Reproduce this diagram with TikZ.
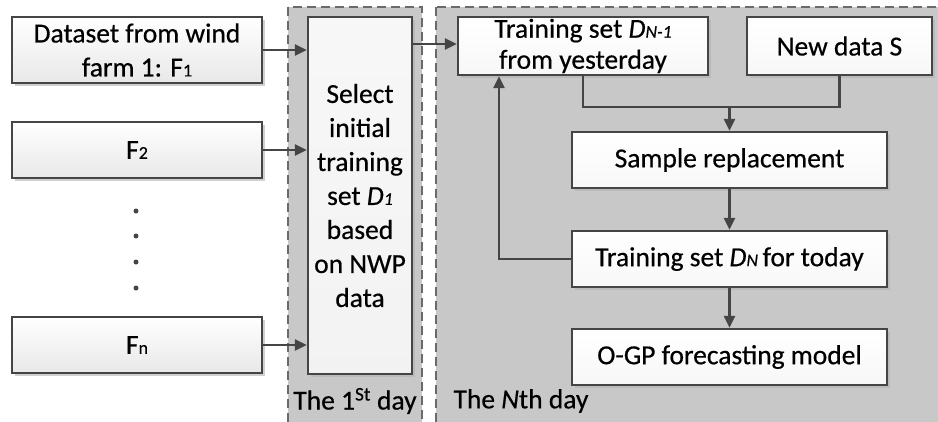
\documentclass[tikz,border=0pt]{standalone}
\usepackage{fontspec}
\setmainfont[FakeBold=0.5]{Carlito}
\usetikzlibrary{shadows,arrows.meta}
\definecolor{panelgray}{HTML}{C8C8C8}
\definecolor{edgegray}{HTML}{454545}
\newcommand{\sbs}[1]{{\fontsize{18}{18}\selectfont #1}}
\begin{document}
\begin{tikzpicture}[x=1pt,y=-1pt,
  font=\fontsize{27.5}{34}\selectfont,
  panel/.style={draw=edgegray!80,dash pattern=on 9pt off 5pt,line width=2pt,fill=panelgray},
  gbox/.style={draw=edgegray,line width=2.2pt,top color=white,bottom color=gray!18,
    drop shadow={shadow xshift=2.5pt,shadow yshift=-2.5pt,fill=gray!60,opacity=.6},
    align=center,inner sep=0pt},
  wbox/.style={draw=edgegray,line width=2.2pt,top color=white,bottom color=gray!6,
    drop shadow={shadow xshift=2.5pt,shadow yshift=-2.5pt,fill=gray!60,opacity=.6},
    align=center,inner sep=0pt},
  arr/.style={draw=edgegray,line width=2.5pt,-{Triangle[length=12pt,width=11pt]}},
  ln/.style={draw=edgegray,line width=2.5pt}]
\useasboundingbox (0,0) rectangle (938,421);
\begin{scope}
\clip (0,0) rectangle (938,421);
\fill[white] (0,0) rectangle (938,421);
\draw[panel] (288,7) rectangle (422,440);
\draw[panel] (436,7) rectangle (960,440);
\end{scope}
\node[gbox,minimum width=250,minimum height=66] (F1) at (137,50) {Dataset from wind\\farm 1: F\sbs{1}};
\node[gbox,minimum width=250,minimum height=56] (F2) at (137,150) {F\sbs{2}};
\node[gbox,minimum width=250,minimum height=56] (Fn) at (137,345) {F\sbs{n}};
\foreach \yy in {211,236,262,288} \fill[edgegray] (136,\yy) circle (2.5pt);
\node[gbox,top color=gray!6,bottom color=gray!10,minimum width=104,minimum height=357] (Sel) at (360,195.5) {Select\\initial\\training\\set \textit{D}\sbs{\itshape 1}\\based\\on NWP\\data};
\node[wbox,minimum width=250,minimum height=58] (DN1) at (583,46) {Training set \textit{D}\sbs{\itshape N-1}\\[-3pt]from yesterday};
\node[wbox,minimum width=185,minimum height=58] (NS) at (839.5,46) {New data S};
\node[wbox,minimum width=315,minimum height=56] (SR) at (729.5,160) {Sample replacement};
\node[wbox,minimum width=315,minimum height=56] (DN) at (729.5,259) {Training set \textit{D}\sbs{\itshape N}\,for today};
\node[wbox,minimum width=315,minimum height=56] (OG) at (729.5,357) {O-GP forecasting model};
\node (L1) at (355,401) {The 1\textsuperscript{St} day};
\node[anchor=west] (LN) at (450,401) {The \textit{N}th day};
\draw[arr] (F1.east) -- (F1.east -| Sel.west);
\draw[arr] (F2.east) -- (F2.east -| Sel.west);
\draw[arr] (Fn.east) -- (Fn.east -| Sel.west);
\draw[arr] ([yshift=2pt]DN1.west -| Sel.east) -- ([yshift=2pt]DN1.west);
\coordinate (M) at (729.5,107);
\draw[ln] (DN1.south) |- (M) -| (NS.south);
\draw[arr] (M) -- (SR.north);
\draw[arr] (SR.south) -- (DN.north);
\draw[arr] (DN.south) -- (OG.north);
\draw[arr] (DN.west) -| ([xshift=-84pt]DN1.south);
\end{tikzpicture}
\end{document}
